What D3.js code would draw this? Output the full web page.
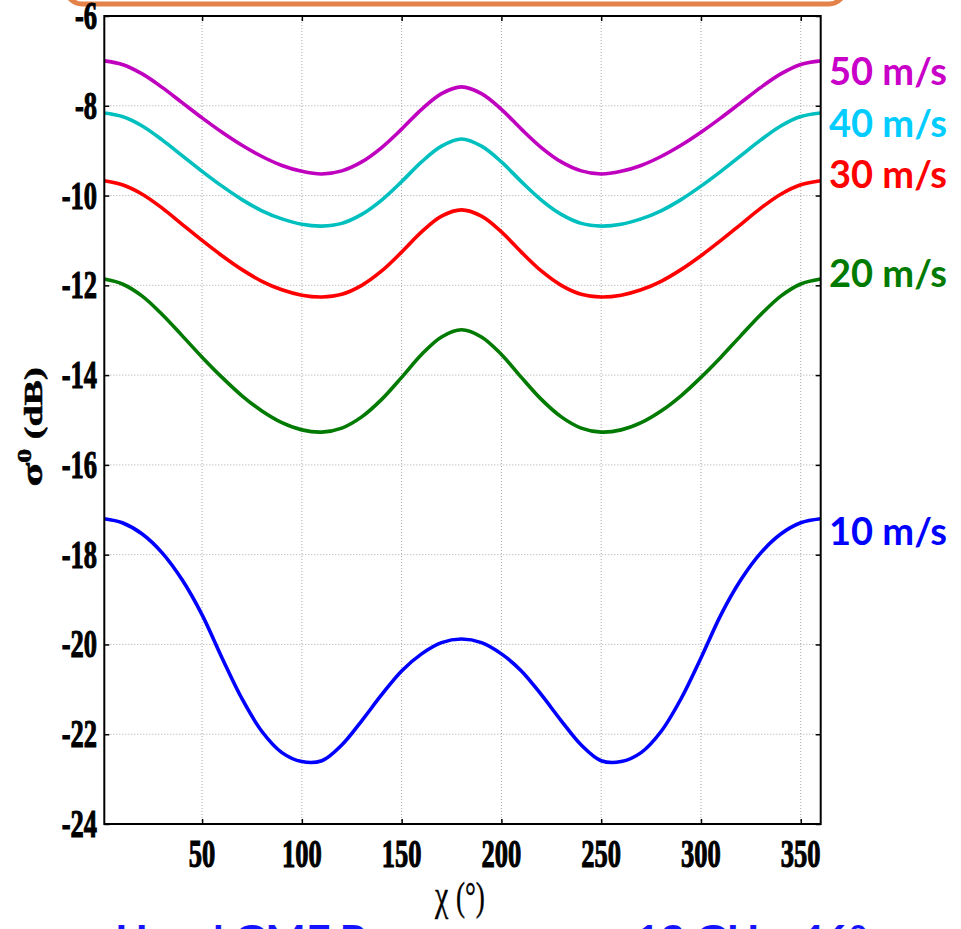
<!DOCTYPE html>
<html>
<head>
<meta charset="utf-8">
<script src="https://cdn.jsdelivr.net/npm/d3@7"></script>
<style>
  html, body { margin: 0; padding: 0; background: #fff; }
  svg { display: block; }
</style>
</head>
<body>
<svg id="chart" width="961" height="929"></svg>
<script>
// Azimuth angle χ (degrees)
const chi = [1, 10, 20, 30, 40, 50, 60, 70, 80, 90, 100, 110, 120, 130, 140, 150, 160, 170, 180,
             190, 200, 210, 220, 230, 240, 250, 260, 270, 280, 290, 300, 310, 320, 330, 340, 350, 360];

// Normalized radar cross section σ0 (dB) for each wind speed
const sigma50 = [-7.00, -7.08, -7.29, -7.59, -7.93, -8.27, -8.59, -8.88, -9.13, -9.33, -9.46, -9.52, -9.45, -9.25, -8.93, -8.52, -8.08, -7.73, -7.58,
                 -7.73, -8.08, -8.52, -8.93, -9.25, -9.45, -9.52, -9.46, -9.33, -9.13, -8.88, -8.59, -8.27, -7.93, -7.59, -7.29, -7.08, -7.00];
const sigma40 = [-8.16, -8.24, -8.45, -8.76, -9.11, -9.46, -9.79, -10.09, -10.34, -10.52, -10.64, -10.68, -10.62, -10.42, -10.10, -9.69, -9.25, -8.90, -8.74,
                 -8.90, -9.25, -9.69, -10.10, -10.42, -10.62, -10.68, -10.64, -10.52, -10.34, -10.09, -9.79, -9.46, -9.11, -8.76, -8.45, -8.24, -8.16];
const sigma30 = [-9.67, -9.76, -9.97, -10.28, -10.64, -11.00, -11.34, -11.65, -11.91, -12.10, -12.22, -12.26, -12.20, -12.00, -11.68, -11.26, -10.81, -10.46, -10.32,
                 -10.46, -10.81, -11.26, -11.68, -12.00, -12.20, -12.26, -12.22, -12.10, -11.91, -11.65, -11.34, -11.00, -10.64, -10.28, -9.97, -9.76, -9.67];
const sigma20 = [-11.86, -11.97, -12.24, -12.65, -13.12, -13.60, -14.05, -14.46, -14.80, -15.06, -15.22, -15.27, -15.18, -14.93, -14.54, -14.05, -13.54, -13.15, -12.99,
                 -13.15, -13.54, -14.05, -14.54, -14.93, -15.18, -15.27, -15.22, -15.06, -14.80, -14.46, -14.05, -13.60, -13.12, -12.65, -12.24, -11.97, -11.86];
const sigma10 = [-17.20, -17.29, -17.54, -17.96, -18.56, -19.34, -20.30, -21.21, -21.94, -22.41, -22.61, -22.59, -22.24, -21.70, -21.12, -20.59, -20.21, -19.96, -19.88,
                 -19.96, -20.21, -20.59, -21.12, -21.70, -22.24, -22.59, -22.61, -22.41, -21.94, -21.21, -20.30, -19.34, -18.56, -17.96, -17.54, -17.29, -17.20];

const speedLabels = ["50 m/s", "40 m/s", "30 m/s", "20 m/s", "10 m/s"];
const xTicks = [50, 100, 150, 200, 250, 300, 350];
const yTicks = [-6, -8, -10, -12, -14, -16, -18, -20, -22, -24];

const caption = "H-pol GMF Response vs. χ, 13 GHz, 46°";

// Series styling and label placement (label baseline given in dB units)
const series = [
  { values: sigma50, line: "#BF00BF", text: "#C800C8", labelAt: -7.54 },
  { values: sigma40, line: "#00BFBF", text: "#00CCFF", labelAt: -8.70 },
  { values: sigma30, line: "#FF0000", text: "#FF0000", labelAt: -9.83 },
  { values: sigma20, line: "#007A00", text: "#007A00", labelAt: -12.04 },
  { values: sigma10, line: "#0000FF", text: "#0000FF", labelAt: -17.78 }
];

const svg = d3.select("#chart");
const margin = { left: 104.3, right: 820.7, top: 16, bottom: 824 };

const x = d3.scaleLinear().domain([1, 360]).range([margin.left, margin.right]);
const y = d3.scaleLinear().domain([-24, -6]).range([margin.bottom, margin.top]);

const serifFont = "'Liberation Serif', 'Times New Roman', serif";
const sansFont = "Lato, 'Open Sans', sans-serif";
const squeeze = 0.68;

// Banner box partly above the figure
svg.append("rect")
  .attr("x", 66).attr("y", -50).attr("width", 779).attr("height", 54)
  .attr("rx", 16).attr("ry", 16)
  .attr("fill", "#fff").attr("stroke", "#E3834A").attr("stroke-width", 5);

// Dotted grid
const grid = svg.append("g").attr("stroke", "#A8A8A8").attr("stroke-width", 1)
  .attr("stroke-dasharray", "1,2").attr("fill", "none");
grid.selectAll("line.gx").data(xTicks).join("line")
  .attr("x1", d => x(d)).attr("x2", d => x(d))
  .attr("y1", margin.top).attr("y2", margin.bottom);
grid.selectAll("line.gy").data(yTicks.filter(d => d > -24 && d < -6)).join("line")
  .attr("y1", d => y(d)).attr("y2", d => y(d))
  .attr("x1", margin.left).attr("x2", margin.right);

// Axes built from D3 axis generators, ticks pointing inward
const tickLen = 5;
const axisStyle = g => {
  g.select(".domain").remove();
  g.selectAll(".tick text").remove();
  g.selectAll(".tick line").attr("stroke", "#000").attr("stroke-width", 1.5);
};
svg.append("g").attr("transform", `translate(0,${margin.bottom})`)
  .call(d3.axisBottom(x).tickValues(xTicks).tickSizeInner(-tickLen).tickSizeOuter(0)).call(axisStyle);
svg.append("g").attr("transform", `translate(0,${margin.top})`)
  .call(d3.axisTop(x).tickValues(xTicks).tickSizeInner(-tickLen).tickSizeOuter(0)).call(axisStyle);
svg.append("g").attr("transform", `translate(${margin.left},0)`)
  .call(d3.axisLeft(y).tickValues(yTicks).tickSizeInner(-tickLen).tickSizeOuter(0)).call(axisStyle);
svg.append("g").attr("transform", `translate(${margin.right},0)`)
  .call(d3.axisRight(y).tickValues(yTicks).tickSizeInner(-tickLen).tickSizeOuter(0)).call(axisStyle);

// Curves
const line = d3.line()
  .x((d, i) => x(chi[i]))
  .y(d => y(d))
  .curve(d3.curveCatmullRom.alpha(0.5));

svg.append("g").selectAll("path").data(series).join("path")
  .attr("d", s => line(s.values))
  .attr("fill", "none")
  .attr("stroke", s => s.line)
  .attr("stroke-width", 3.6)
  .attr("stroke-linejoin", "round");

// Box frame
svg.append("rect")
  .attr("x", margin.left).attr("y", margin.top)
  .attr("width", margin.right - margin.left).attr("height", margin.bottom - margin.top)
  .attr("fill", "none").attr("stroke", "#000").attr("stroke-width", 2);

// Heavy condensed serif used by the tick labels
const heavySerif = sel => sel
  .attr("font-family", serifFont).attr("font-weight", "bold").attr("font-size", 39)
  .attr("fill", "#000").attr("stroke", "#000").attr("stroke-width", 1.1);

// Y tick labels
svg.append("g").selectAll("text").data(yTicks).join("text")
  .attr("transform", d => `translate(97,${y(d) + 13}) scale(${squeeze},1)`)
  .attr("text-anchor", "end")
  .call(heavySerif)
  .text(d => d);

// X tick labels
svg.append("g").selectAll("text").data(xTicks).join("text")
  .attr("transform", d => `translate(${x(d)},867) scale(${squeeze},1)`)
  .attr("text-anchor", "middle")
  .call(heavySerif)
  .text(d => d);

// X axis title
const xt = svg.append("text")
  .attr("transform", `translate(460,910) scale(${squeeze},1)`)
  .attr("text-anchor", "middle")
  .attr("font-family", serifFont).attr("font-size", 40).attr("fill", "#000")
  .attr("stroke", "#000").attr("stroke-width", 0.4);
xt.append("tspan").attr("font-size", 44).text("χ ");
xt.append("tspan").text("(°)");

// Y axis title
const yt = svg.append("text")
  .attr("transform", `translate(42,427) scale(${squeeze},1) rotate(-90)`)
  .attr("text-anchor", "middle")
  .attr("font-family", serifFont).attr("font-weight", "bold").attr("font-size", 38)
  .attr("fill", "#000").attr("stroke", "#000").attr("stroke-width", 0.8);
yt.append("tspan").attr("font-size", 44).text("σ");
yt.append("tspan").attr("dy", -16).attr("font-size", 28).text("0");
yt.append("tspan").attr("dy", 16).text(" (dB)");

// Wind speed labels
svg.append("g").selectAll("text").data(series).join("text")
  .attr("x", 829)
  .attr("y", s => y(s.labelAt))
  .attr("font-family", sansFont).attr("font-weight", "bold").attr("font-size", 38)
  .attr("fill", s => s.text)
  .text((s, i) => speedLabels[i]);

// Caption below the figure
svg.append("text")
  .attr("x", 115).attr("y", 953)
  .attr("textLength", 752).attr("lengthAdjust", "spacingAndGlyphs")
  .attr("font-family", sansFont).attr("font-weight", "bold").attr("font-size", 38)
  .attr("fill", "#1414FF")
  .text(caption);
</script>
</body>
</html>
